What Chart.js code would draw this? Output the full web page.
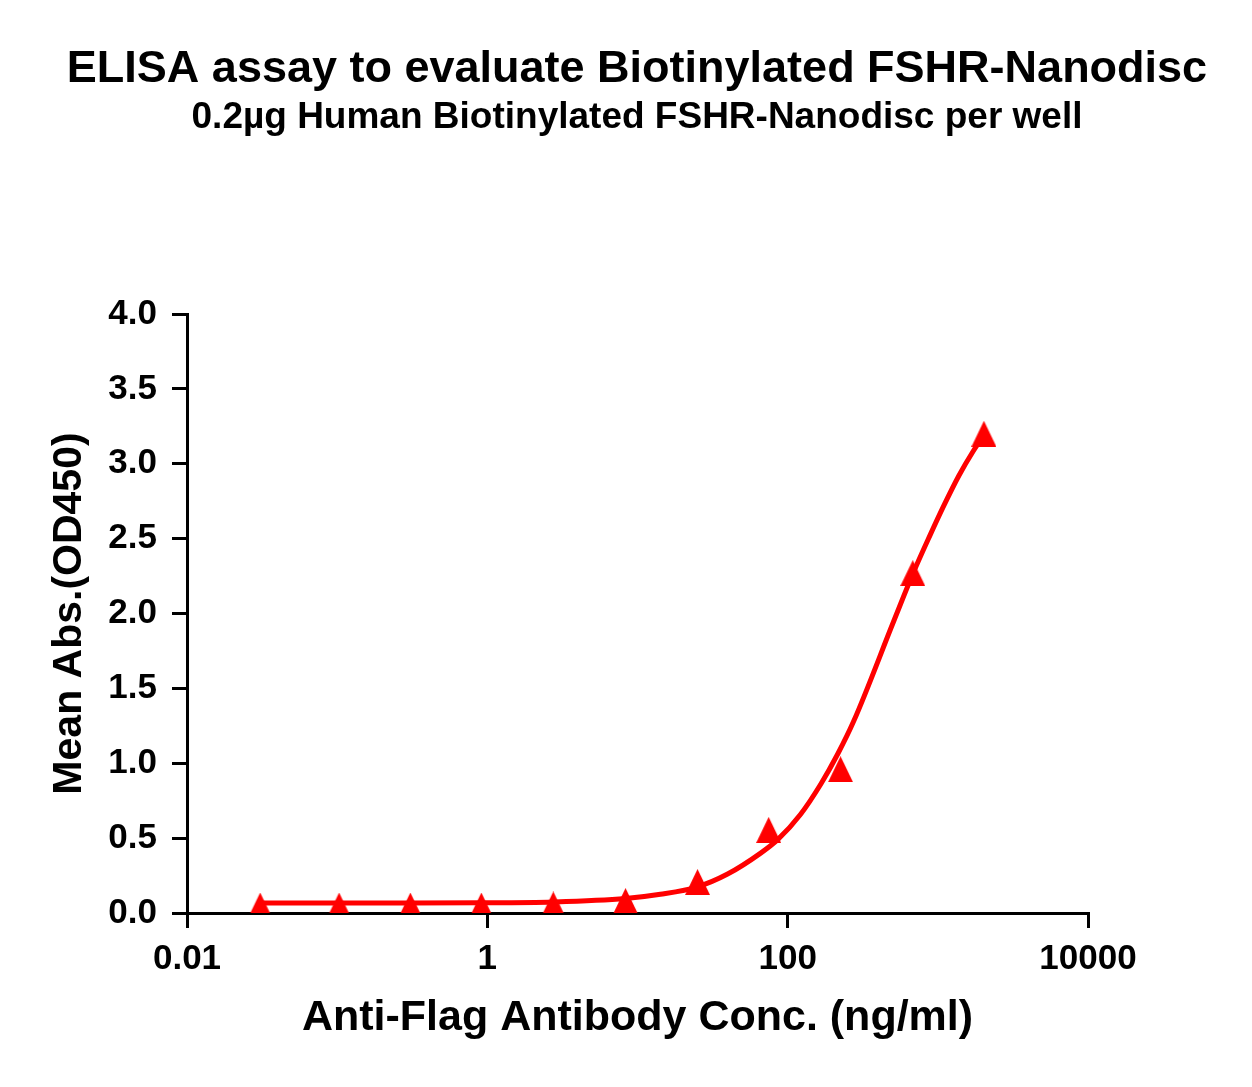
<!DOCTYPE html>
<html>
<head>
<meta charset="utf-8">
<script src="https://cdn.jsdelivr.net/npm/chart.js@4.4.0/dist/chart.umd.min.js"></script>
<style>
  html, body { margin: 0; padding: 0; background: #ffffff; }
  #wrap { width: 1252px; height: 1087px; position: relative; }
</style>
</head>
<body>
<div id="wrap"><canvas id="c" width="1252" height="1087"></canvas></div>
<script>
// ---- data ----
const titleText = 'ELISA assay to evaluate Biotinylated FSHR-Nanodisc';
const subtitleText = '0.2\u00b5g Human Biotinylated FSHR-Nanodisc per well';
const xAxisTitle = 'Anti-Flag Antibody Conc. (ng/ml)';
const yAxisTitle = 'Mean Abs.(OD450)';

// measured points (concentration ng/ml, OD450)
const pointConc = [0.0307, 0.103, 0.307, 0.912, 2.75, 8.32, 25.1, 74.7, 225, 681, 2026];
const pointOD   = [0.05, 0.05, 0.05, 0.05, 0.057, 0.08, 0.207, 0.555, 0.96, 2.27, 3.20];

// fitted curve
const curveConc = [0.0307, 0.103, 0.307, 0.912, 2.75, 8.32, 14.2, 25.1, 39.8, 66.1, 85.8, 122, 166, 215, 275, 509, 692, 885, 1096, 1380, 1711, 1995];
const curveOD   = [0.067, 0.067, 0.067, 0.068, 0.074, 0.097, 0.125, 0.175, 0.26, 0.40, 0.49, 0.66, 0.86, 1.06, 1.28, 1.95, 2.28, 2.52, 2.72, 2.92, 3.08, 3.18];

const xTickValues = [0.01, 1, 100, 10000];
const xTickLabels = ['0.01', '1', '100', '10000'];

// ---- triangle symbol (GraphPad style, centred on its box) ----
function makeTriangle(w, h, color) {
  const cv = document.createElement('canvas');
  cv.width = w; cv.height = h;
  const g = cv.getContext('2d');
  g.fillStyle = color;
  g.beginPath();
  g.moveTo(w / 2, 0);
  g.lineTo(w, h);
  g.lineTo(0, h);
  g.closePath();
  g.fill();
  return cv;
}
const tri = makeTriangle(25, 26, '#ff0000');

const FONT = "'Liberation Sans', Arial, Helvetica, sans-serif";

const ctx = document.getElementById('c').getContext('2d');
new Chart(ctx, {
  type: 'scatter',
  data: {
    datasets: [
      {
        label: 'fit',
        type: 'line',
        data: curveConc.map((c, i) => ({ x: c, y: curveOD[i] })),
        borderColor: '#ff0000',
        borderWidth: 5,
        pointRadius: 0,
        fill: false,
        cubicInterpolationMode: 'monotone',
        order: 2
      },
      {
        label: 'data',
        data: pointConc.map((c, i) => ({ x: c, y: pointOD[i] })),
        pointStyle: tri,
        pointRadius: 13,
        showLine: false,
        order: 1
      }
    ]
  },
  options: {
    responsive: false,
    animation: false,
    devicePixelRatio: 1,
    layout: { padding: { left: 22, right: 0, top: 0, bottom: 0 } },
    plugins: {
      legend: { display: false },
      tooltip: { enabled: false },
      title: {
        display: true,
        text: titleText,
        color: '#000000',
        font: { family: FONT, size: 45, weight: 'bold', lineHeight: 1.2 },
        padding: { top: 43, bottom: 0 }
      },
      subtitle: {
        display: true,
        text: subtitleText,
        color: '#000000',
        font: { family: FONT, size: 37, weight: 'bold', lineHeight: 1.1 },
        padding: { top: 0, bottom: 176.3 }
      }
    },
    scales: {
      x: {
        type: 'logarithmic',
        min: 0.01,
        max: 10000,
        afterBuildTicks: (scale) => { scale.ticks = xTickValues.map(v => ({ value: v })); },
        afterFit: (scale) => { scale.height = 174; },
        ticks: {
          color: '#000000',
          font: { family: FONT, size: 35, weight: 'bold', lineHeight: 1.2 },
          padding: 10,
          maxRotation: 0,
          autoSkip: false,
          callback: (v) => { const i = xTickValues.indexOf(v); return i >= 0 ? xTickLabels[i] : ''; }
        },
        grid: { drawOnChartArea: false, drawTicks: true, tickLength: 15, color: '#000000', lineWidth: 3 },
        border: { display: true, color: '#000000', width: 3 },
        title: {
          display: true,
          text: xAxisTitle,
          color: '#000000',
          font: { family: FONT, size: 43, weight: 'bold', lineHeight: 1.2 },
          padding: { top: 0, bottom: 43 }
        }
      },
      y: {
        type: 'linear',
        min: 0,
        max: 4,
        afterFit: (scale) => { scale.width = 165; },
        ticks: {
          stepSize: 0.5,
          color: '#000000',
          font: { family: FONT, size: 35, weight: 'bold', lineHeight: 1.2 },
          padding: 15,
          callback: (v) => Number(v).toFixed(1)
        },
        grid: { drawOnChartArea: false, drawTicks: true, tickLength: 15, color: '#000000', lineWidth: 3 },
        border: { display: true, color: '#000000', width: 3 },
        title: {
          display: true,
          text: yAxisTitle,
          color: '#000000',
          font: { family: FONT, size: 41, weight: 'bold', lineHeight: 1.2 },
          padding: { top: 23, bottom: 0 }
        }
      },
      yRightSpace: {
        type: 'linear',
        position: 'right',
        display: true,
        afterFit: (scale) => { scale.width = 164; },
        ticks: { display: false },
        grid: { display: false, drawTicks: false },
        border: { display: false },
        title: { display: false }
      }
    }
  }
});
</script>
</body>
</html>
